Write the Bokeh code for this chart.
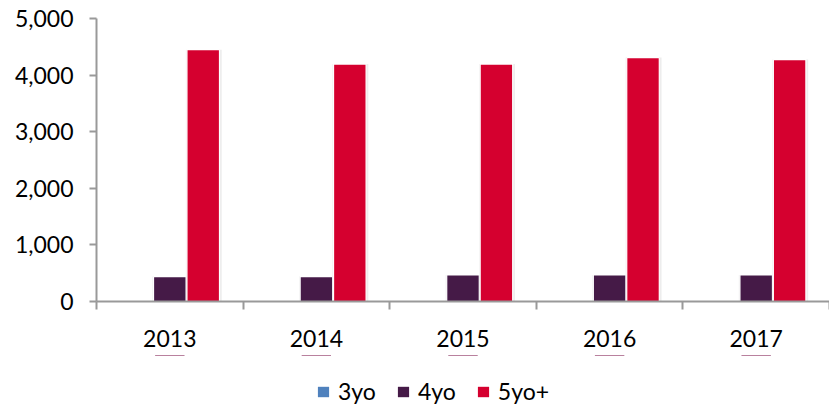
from bokeh.plotting import figure
from bokeh.layouts import column
from bokeh.models import (FactorRange, Range1d, LinearAxis, FixedTicker,
                          NumeralTickFormatter, Legend, LegendItem, ColumnDataSource)
from bokeh.transform import dodge
from bokeh.embed import file_html
from bokeh.resources import INLINE

years = ["2013", "2014", "2015", "2016", "2017"]
series_names = ["3yo", "4yo", "5yo+"]
yo3 = [8, 6, 6, 5, 5]
yo4 = [440, 440, 468, 468, 468]
yo5 = [4450, 4195, 4195, 4310, 4275]
y_ticks = [0, 1000, 2000, 3000, 4000, 5000]

colors = ["#4F81BD", "#451A47", "#D5002F"]
FONT = "Lato"

src = ColumnDataSource(dict(year=years, yo3=yo3, yo4=yo4, yo5=yo5))

p = figure(x_range=FactorRange(*years), y_range=Range1d(0, 5000),
           frame_width=733, frame_height=283,
           min_border_left=96, min_border_top=18, min_border_right=0, min_border_bottom=54,
           x_axis_location=None, output_backend="svg", toolbar_location=None)
p.outline_line_color = None
p.xgrid.visible = False
p.ygrid.visible = False
p.background_fill_color = "white"
p.border_fill_color = "white"

# y axis
ya = p.yaxis[0]
ya.ticker = FixedTicker(ticks=y_ticks)
ya.formatter = NumeralTickFormatter(format="0,0")
ya.axis_line_color = "#999999"
ya.axis_line_width = 2
ya.major_tick_line_color = "#999999"
ya.major_tick_line_width = 2
ya.major_tick_in = 0
ya.major_tick_out = 7
ya.minor_tick_line_color = None
ya.major_label_text_font = FONT
ya.major_label_text_font_size = "23px"
ya.major_label_text_color = "#000000"
ya.major_label_standoff = 16

# x axis in synthetic categorical coordinates: labels at category centres,
# tick marks (minor) at category boundaries
centers = [i + 0.5 for i in range(len(years))]
edges = list(range(len(years) + 1))
xa = LinearAxis(ticker=FixedTicker(ticks=centers, minor_ticks=edges),
                major_label_overrides={c: y for c, y in zip(centers, years)},
                major_tick_line_color=None, major_tick_in=0, major_tick_out=0,
                minor_tick_in=0, minor_tick_out=8,
                minor_tick_line_color="#999999", minor_tick_line_width=2,
                axis_line_color="#999999", axis_line_width=2,
                major_label_text_font=FONT, major_label_text_font_size="23px",
                major_label_text_color="#000000", major_label_standoff=20)
p.add_layout(xa, "below")

offsets = [-0.228, 0.0, 0.228]
cols = ["yo3", "yo4", "yo5"]
for name, col, off, c in zip(series_names, cols, offsets, colors):
    # soft shadow
    p.vbar(x=dodge("year", off + 0.004, range=p.x_range), top=col, width=0.245, source=src,
           fill_color="#000000", fill_alpha=0.07, line_color=None)
    p.vbar(x=dodge("year", off, range=p.x_range), top=col, width=0.222, source=src,
           fill_color=c, line_color="white", line_width=1.2)

# legend strip below the chart (its bars lie outside its visible y range;
# they only serve as legend glyphs)
p2 = figure(width=829, height=50, x_range=FactorRange(*years), y_range=Range1d(-2, -1),
            min_border=0, x_axis_location=None, y_axis_location=None,
            output_backend="svg", toolbar_location=None)
p2.outline_line_color = None
p2.xgrid.visible = False
p2.ygrid.visible = False
items = []
for name, col, c in zip(series_names, cols, colors):
    r = p2.vbar(x="year", top=col, width=0.2, source=src, fill_color=c, line_color=None)
    items.append(LegendItem(label=name, renderers=[r]))
legend = Legend(items=items, orientation="horizontal", location=(220, 0),
                label_text_font=FONT, label_text_font_size="23px", label_text_color="#000000",
                glyph_width=14, glyph_height=13, label_standoff=8, spacing=20,
                border_line_color=None, background_fill_alpha=0, margin=0, padding=0)
p2.add_layout(legend, "center")

open("out.html", "w").write(file_html(column(p, p2), INLINE))
